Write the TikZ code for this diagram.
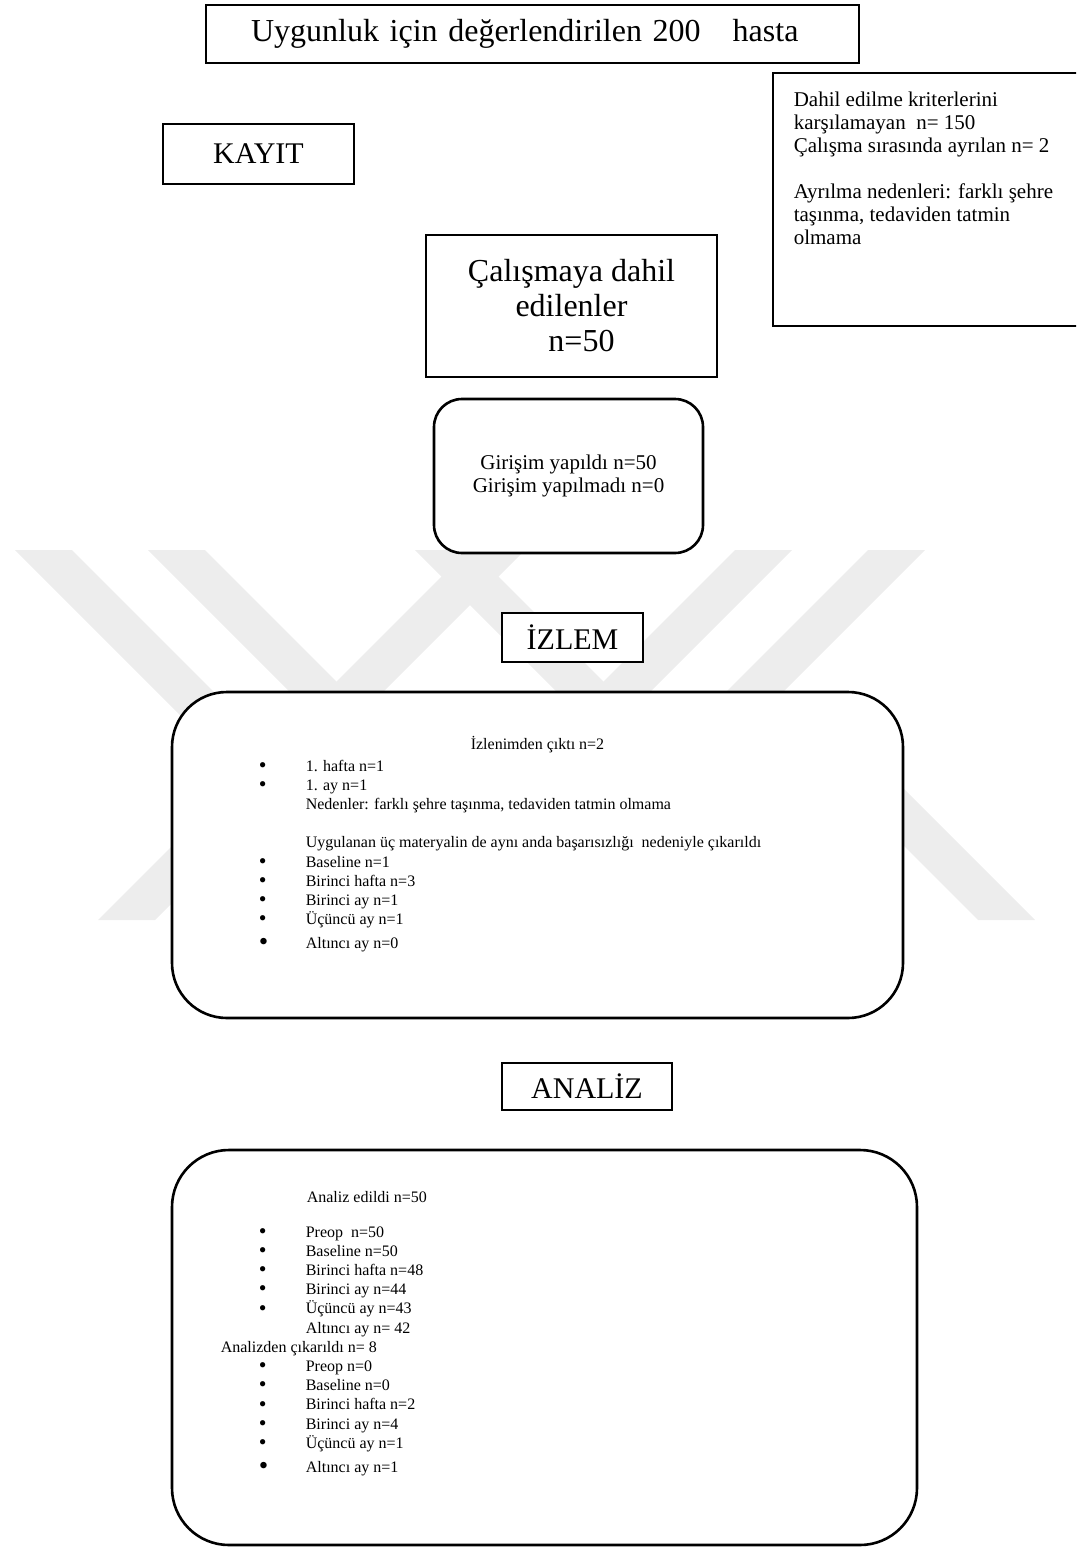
\documentclass[tikz,border=0pt]{standalone}
\usepackage{fontspec}
\setmainfont{Liberation Serif}

\newcommand{\blt}{\makebox[23.5pt][l]{\raisebox{-0.6pt}{\fontsize{11}{9.6}\selectfont •}}}
\newcommand{\bigblt}{\makebox[23.5pt][l]{\raisebox{-1pt}{\fontsize{13.5}{9.6}\selectfont •}}}
\newcommand{\nob}{\hspace*{23.5pt}}

\begin{document}
\begin{tikzpicture}[x=0.5pt, y=-0.5pt, thick]
        \tikzstyle{block} = [rectangle, draw, line width=1pt, fill=white, inner sep=0pt]
        \tikzstyle{roundblock} = [block, line width=1.3pt]
        \tikzstyle{heading} = [font=\fontsize{15}{18}\selectfont]
        \tikzstyle{body} = [font=\fontsize{10.5}{11.5}\selectfont]
        \tikzstyle{small} = [font=\fontsize{8}{9.6}\selectfont, align=left, inner sep=0pt]
        \tikzstyle{stripe} = [fill=black!7]

        \useasboundingbox (0,0) rectangle (1076,1547);
        \clip (0,0) rectangle (1076,1547);

        % watermark stripes behind the boxes
        \fill[stripe] (15,550) -- (72,550) -- (442,920) -- (385,920) -- cycle;
        \fill[stripe] (148,550) -- (205,550) -- (575,920) -- (518,920) -- cycle;
        \fill[stripe] (468,550) -- (525,550) -- (155,920) -- (98,920) -- cycle;
        \fill[stripe] (415,550) -- (472,550) -- (842,920) -- (785,920) -- cycle;
        \fill[stripe] (735,550) -- (792,550) -- (422,920) -- (365,920) -- cycle;
        \fill[stripe] (868,550) -- (925,550) -- (555,920) -- (498,920) -- cycle;
        \fill[stripe] (818,760) -- (875,760) -- (1035,920) -- (978,920) -- cycle;

        % enrolment
        \node [block, anchor=north west, minimum width=326.5pt, minimum height=29pt,
               text width=281.5pt, inner xsep=22.5pt, align=left,
               font=\fontsize{16}{18}\selectfont] (title) at (205,4)
              {Uygunluk için değerlendirilen 200\ \ \ hasta};
        \node [block, heading, minimum width=95.5pt, minimum height=30pt] (kayit) at (258.5,154) {KAYIT};
        \node [block, anchor=north west, minimum width=159pt, minimum height=126.5pt] (dahil) at (772,72) {};
        \node [body, anchor=north west, align=left, inner sep=0pt] (dahiltext) at (793,91)
              {Dahil edilme kriterlerini\\
               karşılamayan\ \ n= 150\\
               Çalışma sırasında ayrılan n= 2\\[11.5pt]
               Ayrılma nedenleri: farklı şehre\\
               taşınma, tedaviden tatmin\\
               olmama};
        \node [block, minimum width=145.5pt, minimum height=71pt, align=center,
               font=\fontsize{16}{17.5}\selectfont] (calisma) at (571.5,306)
              {Çalışmaya dahil\\edilenler\\\hspace*{10pt}n=50};
        \node [roundblock, body, rounded corners=14pt, minimum width=134.5pt, minimum height=77pt,
               align=center] (girisim) at (568.5,476)
              {Girişim yapıldı n=50\\Girişim yapılmadı n=0};

        % follow-up
        \node [block, heading, minimum width=70.5pt, minimum height=24.5pt] (izlem) at (572.5,637.5) {İZLEM};
        \node [roundblock, rounded corners=27.5pt, minimum width=365.5pt, minimum height=163pt] (izlembox) at (537.5,855) {};
        \node [small] (izlemhead) at (537.5,745) {İzlenimden çıktı n=2};
        \node [small, anchor=north west] (izlemlist) at (258,759)
              {\blt 1. hafta n=1\\
               \blt 1. ay n=1\\
               \nob Nedenler: farklı şehre taşınma, tedaviden tatmin olmama\\[9.6pt]
               \nob Uygulanan üç materyalin de aynı anda başarısızlığı\ \ nedeniyle çıkarıldı\\
               \blt Baseline n=1\\
               \blt Birinci hafta n=3\\
               \blt Birinci ay n=1\\
               \blt Üçüncü ay n=1\\[2.5pt]
               \bigblt Altıncı ay n=0};

        % analysis
        \node [block, heading, minimum width=85pt, minimum height=23.5pt] (analiz) at (587,1086.5) {ANALİZ};
        \node [roundblock, rounded corners=28.5pt, minimum width=372.5pt, minimum height=197.5pt] (analizbox) at (544.5,1347.5) {};
        \node [small, anchor=north west] (analizlist) at (220,1191)
              {\hspace*{43pt}Analiz edildi n=50\\[7.5pt]
               \hspace*{19pt}\blt Preop\ \ n=50\\
               \hspace*{19pt}\blt Baseline n=50\\
               \hspace*{19pt}\blt Birinci hafta n=48\\
               \hspace*{19pt}\blt Birinci ay n=44\\
               \hspace*{19pt}\blt Üçüncü ay n=43\\
               \hspace*{19pt}\nob Altıncı ay n= 42\\
               Analizden çıkarıldı n= 8\\
               \hspace*{19pt}\blt Preop n=0\\
               \hspace*{19pt}\blt Baseline n=0\\
               \hspace*{19pt}\blt Birinci hafta n=2\\
               \hspace*{19pt}\blt Birinci ay n=4\\
               \hspace*{19pt}\blt Üçüncü ay n=1\\[2.5pt]
               \hspace*{19pt}\bigblt Altıncı ay n=1};
\end{tikzpicture}
\end{document}
